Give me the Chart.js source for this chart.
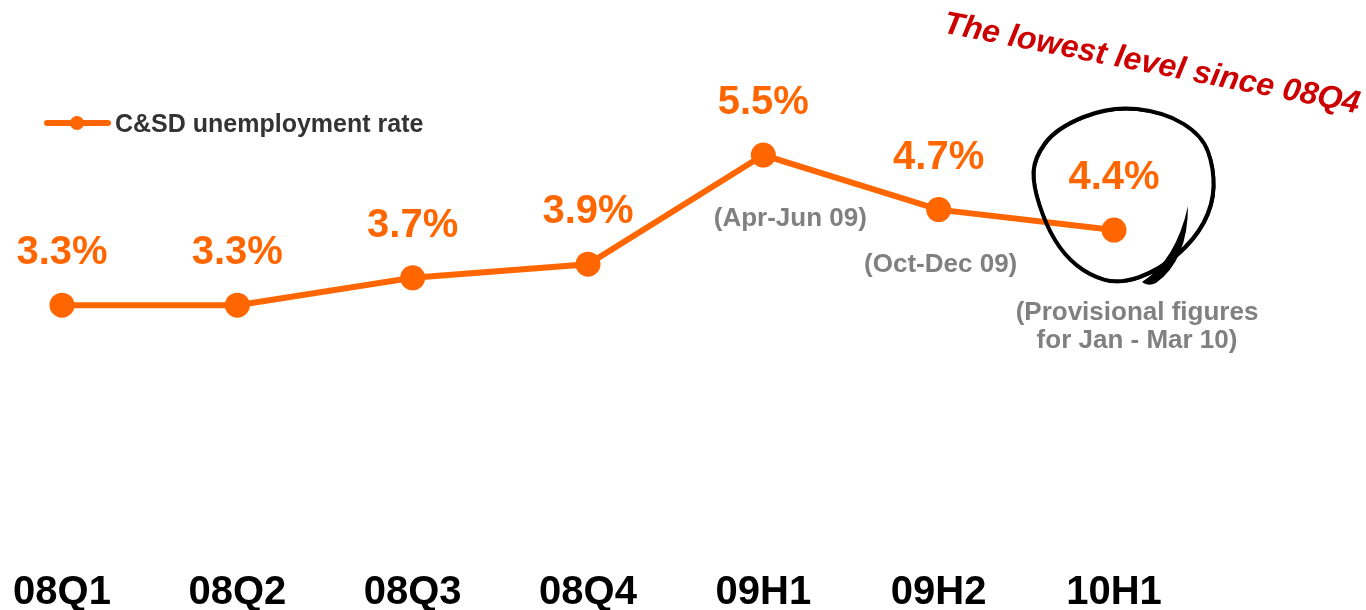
<!DOCTYPE html>
<html>
<head>
<meta charset="utf-8">
<title>C&SD unemployment rate</title>
<script src="https://cdn.jsdelivr.net/npm/chart.js@4"></script>
<style>
  html, body { margin: 0; padding: 0; background: #fff; }
  #wrap { width: 1366px; height: 610px; }
</style>
</head>
<body>
<div id="wrap"><canvas id="myChart" width="1366" height="610"></canvas></div>
<script>
/* data */
const categories = ['08Q1', '08Q2', '08Q3', '08Q4', '09H1', '09H2', '10H1'];
const rates = [3.3, 3.3, 3.7, 3.9, 5.5, 4.7, 4.4];
const rateLabels = ['3.3%', '3.3%', '3.7%', '3.9%', '5.5%', '4.7%', '4.4%'];
const periodNotes = [[], [], [], [], ['(Apr-Jun 09)'], ['(Oct-Dec 09)'], ['(Provisional figures', 'for Jan - Mar 10)']];
const seriesName = 'C&SD unemployment rate';
const callout = 'The lowest level since 08Q4';

const ORANGE = '#ff6600';
const FONT = "'Liberation Sans', Arial, sans-serif";

// where each grey note sits relative to its point
const noteOffsets = { 4: [27, 64], 5: [2, 55], 6: [23, 83] };

const extras = {
  id: 'extras',
  afterDatasetsDraw(chart) {
    const ctx = chart.ctx;
    const pts = chart.getDatasetMeta(0).data;
    ctx.save();

    /* legend */
    ctx.strokeStyle = ORANGE;
    ctx.lineWidth = 6;
    ctx.lineCap = 'round';
    ctx.beginPath();
    ctx.moveTo(47, 123);
    ctx.lineTo(108, 123);
    ctx.stroke();
    ctx.fillStyle = ORANGE;
    ctx.beginPath();
    ctx.arc(77, 123, 7, 0, Math.PI * 2);
    ctx.fill();
    ctx.fillStyle = '#333333';
    ctx.font = 'bold 25px ' + FONT;
    ctx.textAlign = 'left';
    ctx.textBaseline = 'middle';
    ctx.fillText(seriesName, 115, 125);

    /* value labels */
    ctx.fillStyle = ORANGE;
    ctx.font = 'bold 40px ' + FONT;
    ctx.textAlign = 'center';
    pts.forEach((p, i) => {
      ctx.fillText(rateLabels[i], p.x, p.y - 52);
    });

    /* grey notes */
    ctx.fillStyle = '#808080';
    ctx.font = 'bold 26px ' + FONT;
    pts.forEach((p, i) => {
      const off = noteOffsets[i];
      if (!off) return;
      periodNotes[i].forEach((line, k) => {
        ctx.fillText(line, p.x + off[0], p.y + off[1] + k * 28);
      });
    });

    /* hand drawn loop round the last point */
    const last = pts[pts.length - 1];
    const loop = [[-4, -124], [50, -118], [88, -95], [100, -62], [99, -25], [80, 10], [45, 40],
      [5, 54], [-25, 45], [-50, 25], [-68, -5], [-81, -45], [-80, -72], [-58, -102]];
    const mid = (a, b) => [(a[0] + b[0]) / 2, (a[1] + b[1]) / 2];
    ctx.strokeStyle = '#000';
    ctx.lineJoin = 'round';
    [[0, 0, 4], [1, 1, 2]].forEach(([dx, dy, w]) => {
      ctx.lineWidth = w;
      ctx.beginPath();
      let m = mid(loop[loop.length - 1], loop[0]);
      ctx.moveTo(last.x + m[0] + dx, last.y + m[1] + dy);
      for (let i = 0; i < loop.length; i++) {
        const c = loop[i];
        const n = mid(c, loop[(i + 1) % loop.length]);
        ctx.quadraticCurveTo(last.x + c[0] + dx, last.y + c[1] + dy, last.x + n[0] + dx, last.y + n[1] + dy);
      }
      ctx.stroke();
    });
    // extra tail stroke
    ctx.fillStyle = '#000';
    ctx.beginPath();
    ctx.moveTo(last.x + 74, last.y - 24);
    ctx.quadraticCurveTo(last.x + 62, last.y + 30, last.x + 28, last.y + 52);
    ctx.quadraticCurveTo(last.x + 34, last.y + 57, last.x + 42, last.y + 53);
    ctx.quadraticCurveTo(last.x + 74, last.y + 30, last.x + 74, last.y - 24);
    ctx.fill();

    /* red callout */
    ctx.fillStyle = '#cc0000';
    ctx.font = 'italic bold 32px ' + FONT;
    ctx.translate(1150, 73);
    ctx.rotate(11 * Math.PI / 180);
    ctx.textAlign = 'center';
    ctx.textBaseline = 'alphabetic';
    ctx.fillText(callout, 0, 0);

    ctx.restore();
  }
};

const ctx = document.getElementById('myChart').getContext('2d');
const myChart = new Chart(ctx, {
  type: 'line',
  data: {
    labels: categories,
    datasets: [{
      label: seriesName,
      data: rates,
      borderColor: ORANGE,
      borderWidth: 6,
      backgroundColor: ORANGE,
      pointBackgroundColor: ORANGE,
      pointBorderWidth: 0,
      pointRadius: 12.5,
      tension: 0,
      clip: false
    }]
  },
  options: {
    responsive: false,
    animation: false,
    layout: { padding: { left: 62, right: 252, top: 52.7, bottom: 0 } },
    plugins: {
      legend: { display: false },
      tooltip: { enabled: false }
    },
    scales: {
      x: {
        offset: false,
        grid: { display: false, drawTicks: false },
        border: { display: false },
        ticks: {
          color: '#000',
          padding: 0,
          maxRotation: 0,
          autoSkip: false,
          font: { family: FONT, size: 40, weight: 'bold', lineHeight: 0.85 }
        }
      },
      y: {
        display: false,
        min: -0.67,
        max: 7
      }
    }
  },
  plugins: [extras]
});
</script>
</body>
</html>
